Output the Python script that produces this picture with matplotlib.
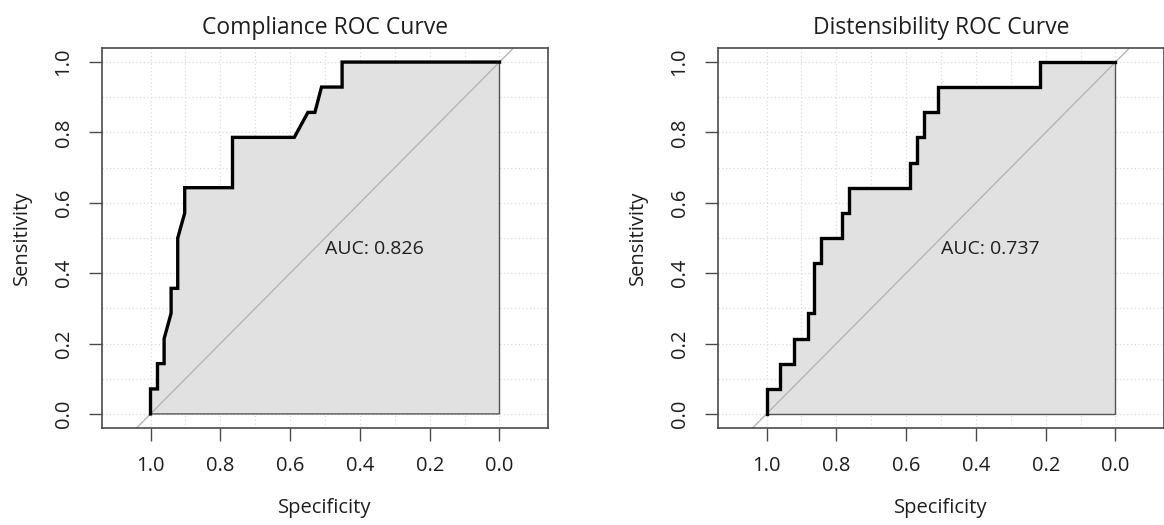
import matplotlib
matplotlib.use("Agg")
import matplotlib.pyplot as plt
import numpy as np

plt.rcParams["font.family"] = ["Open Sans", "DejaVu Sans"]

# ROC curve vertices (specificity, sensitivity)
comp_spec = [1.0, 1.0, 0.980, 0.980, 0.961, 0.961, 0.941, 0.941, 0.922, 0.922,
             0.902, 0.902, 0.765, 0.765, 0.588, 0.549, 0.529, 0.510, 0.451, 0.451, 0.0]
comp_sens = [0.0, 0.071, 0.071, 0.143, 0.143, 0.214, 0.286, 0.357, 0.357, 0.500,
             0.571, 0.643, 0.643, 0.786, 0.786, 0.857, 0.857, 0.929, 0.929, 1.0, 1.0]
comp_auc = 0.826

dist_spec = [1.0, 1.0, 0.961, 0.961, 0.922, 0.922, 0.882, 0.882, 0.863, 0.863,
             0.843, 0.843, 0.784, 0.784, 0.765, 0.765, 0.588, 0.588, 0.569, 0.569,
             0.549, 0.549, 0.510, 0.510, 0.216, 0.216, 0.0]
dist_sens = [0.0, 0.071, 0.071, 0.143, 0.143, 0.214, 0.214, 0.286, 0.286, 0.429,
             0.429, 0.500, 0.500, 0.571, 0.571, 0.643, 0.643, 0.714, 0.714, 0.786,
             0.786, 0.857, 0.857, 0.929, 0.929, 1.0, 1.0]
dist_auc = 0.737

titles = ["Compliance ROC Curve", "Distensibility ROC Curve"]
tick_vals = [0.0, 0.2, 0.4, 0.6, 0.8, 1.0]

W, H = 1164, 525
fig = plt.figure(figsize=(W / 100, H / 100), dpi=100, facecolor="white")

box_col = "#4a4a4a"
txt_col = "#1e1e1e"


def roc_panel(left_px, spec, sens, auc, title):
    ax = fig.add_axes([left_px / W, (H - 428) / H, 446 / W, 380 / H])
    ax.set_xlim(1.139, -0.139)
    ax.set_ylim(-0.04, 1.04)

    # dotted grid every 0.1
    for g in np.arange(0, 1.01, 0.1):
        ax.axvline(g, color="#dadada", lw=0.9, ls=(0, (1, 2)), zorder=0)
        ax.axhline(g, color="#dadada", lw=0.9, ls=(0, (1, 2)), zorder=0)

    ax.fill(list(spec) + [0.0], list(sens) + [0.0], facecolor="#e1e1e1",
            edgecolor="#555555", lw=1.0, zorder=1)
    ax.axline((1, 0), (0, 1), color="#b5b5b5", lw=1.0, zorder=2)
    ax.plot(spec, sens, color="black", lw=2.4, solid_joinstyle="miter", zorder=3)

    ax.text(0.5, 0.47, f"AUC: {auc:.3f}", ha="left", va="center", fontsize=14,
            color=txt_col, zorder=4)

    ax.set_xticks(tick_vals)
    ax.set_yticks(tick_vals)
    ax.set_xticklabels([f"{v:.1f}" for v in tick_vals])
    ax.set_yticklabels([f"{v:.1f}" for v in tick_vals], rotation=90, va="center")
    ax.tick_params(direction="out", length=9.5, width=1.0, color=box_col,
                   labelsize=14.5, labelcolor=txt_col, pad=11)
    for s in ax.spines.values():
        s.set_color(box_col)
        s.set_linewidth(1.2)

    ax.set_title(title, fontsize=16.5, color=txt_col, pad=10)
    ax.set_xlabel("Specificity", fontsize=14.5, color=txt_col)
    ax.set_ylabel("Sensitivity", fontsize=14.5, color=txt_col)
    ax.xaxis.set_label_coords(0.5, -0.21)
    ax.yaxis.set_label_coords(-0.18, 0.5)
    ax.xaxis.label.set_va("center")
    ax.yaxis.label.set_va("center")
    return ax


roc_panel(102, comp_spec, comp_sens, comp_auc, titles[0])
roc_panel(718, dist_spec, dist_sens, dist_auc, titles[1])

fig.savefig("out.png", dpi=100, facecolor="white")
